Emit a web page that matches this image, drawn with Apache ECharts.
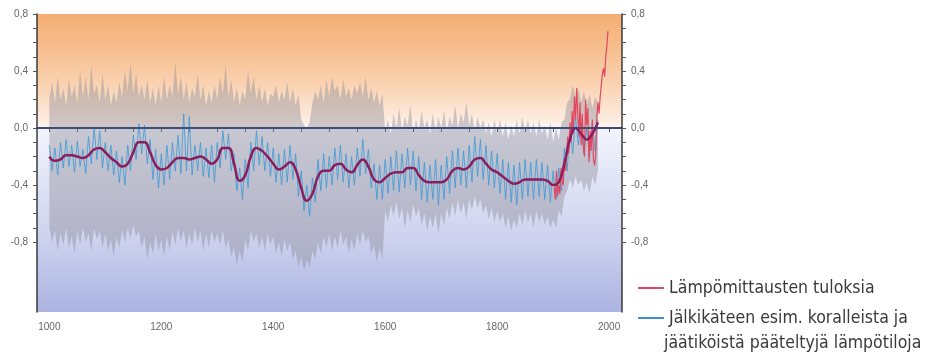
<!DOCTYPE html>
<html>
<head>
<meta charset="utf-8">
<script src="https://cdn.jsdelivr.net/npm/echarts@6/dist/echarts.min.js"></script>
<style>
  html, body { margin: 0; padding: 0; background: #fff; }
  #chart { width: 926px; height: 360px; }
</style>
</head>
<body>
<div id="chart"></div>
<script>
// vuosi-akseli ja tikit
const xTicks = [1000, 1050, 1100, 1150, 1200, 1250, 1300, 1350, 1400, 1450, 1500, 1550, 1600, 1650, 1700, 1750, 1800, 1850, 1900, 1950, 2000]
const xLabels = [1000, 1200, 1400, 1600, 1800, 2000]
const yTicks = [-0.8, -0.7, -0.6, -0.5, -0.4, -0.3, -0.2, -0.1, 0, 0.1, 0.2, 0.3, 0.4, 0.5, 0.6, 0.7, 0.8]
const yLabels = [-0.8, -0.4, 0, 0.4, 0.8]

// rekonstruktio (5 v välein, 1000-1980)
const proxyStart = 1000
const proxyStep = 5
const proxy = [
  -0.12, -0.30, -0.14, -0.33, -0.10, -0.28, -0.08, -0.27, -0.12, -0.31, -0.09, -0.27, -0.15, -0.32, -0.06, -0.25, 0.00, -0.22, -0.02, -0.28,
  -0.10, -0.30, -0.12, -0.33, -0.16, -0.38, -0.20, -0.40, -0.12, -0.30, -0.05, -0.22, 0.03, -0.18, 0.02, -0.25, -0.08, -0.36, -0.15, -0.42,
  -0.18, -0.40, -0.12, -0.36, -0.10, -0.30, -0.05, -0.32, 0.10, -0.30, 0.08, -0.33, -0.12, -0.30, -0.10, -0.34, -0.14, -0.35, -0.12, -0.38,
  -0.10, -0.28, -0.02, -0.22, -0.04, -0.30, -0.18, -0.44, -0.28, -0.50, -0.22, -0.42, -0.10, -0.30, -0.02, -0.26, -0.06, -0.30, -0.10, -0.34,
  -0.14, -0.38, -0.18, -0.40, -0.15, -0.38, -0.12, -0.36, -0.18, -0.48, -0.30, -0.58, -0.40, -0.62, -0.35, -0.52, -0.22, -0.44, -0.18, -0.42,
  -0.20, -0.40, -0.14, -0.36, -0.12, -0.38, -0.18, -0.42, -0.20, -0.40, -0.14, -0.34, -0.08, -0.32, -0.15, -0.42, -0.25, -0.50, -0.26, -0.50,
  -0.22, -0.46, -0.20, -0.44, -0.16, -0.45, -0.18, -0.42, -0.14, -0.40, -0.16, -0.44, -0.20, -0.50, -0.24, -0.52, -0.26, -0.50, -0.22, -0.54,
  -0.26, -0.50, -0.20, -0.46, -0.16, -0.42, -0.14, -0.40, -0.16, -0.42, -0.12, -0.38, -0.06, -0.34, -0.08, -0.36, -0.12, -0.40, -0.16, -0.42,
  -0.18, -0.46, -0.22, -0.50, -0.24, -0.52, -0.26, -0.54, -0.24, -0.50, -0.22, -0.48, -0.24, -0.50, -0.22, -0.48, -0.24, -0.50, -0.26, -0.52,
  -0.30, -0.50, -0.28, -0.44, -0.14, -0.30, 0.00, -0.18, 0.08, -0.12, 0.04, -0.18, 0.00, -0.20, 0.04, -0.16, 0.06
]
// epävarmuuden ylä- ja alaraja (5 v välein)
const upper = [
  0.20, 0.32, 0.18, 0.36, 0.20, 0.28, 0.16, 0.34, 0.22, 0.30, 0.18, 0.40, 0.22, 0.36, 0.20, 0.44, 0.24, 0.30, 0.18, 0.38,
  0.20, 0.30, 0.16, 0.26, 0.18, 0.32, 0.22, 0.40, 0.26, 0.46, 0.24, 0.38, 0.22, 0.30, 0.20, 0.34, 0.18, 0.28, 0.16, 0.30,
  0.18, 0.36, 0.20, 0.30, 0.22, 0.46, 0.24, 0.36, 0.20, 0.32, 0.18, 0.28, 0.22, 0.38, 0.20, 0.30, 0.16, 0.26, 0.18, 0.30,
  0.20, 0.36, 0.24, 0.44, 0.22, 0.34, 0.18, 0.28, 0.16, 0.26, 0.20, 0.40, 0.24, 0.36, 0.20, 0.30, 0.18, 0.28, 0.16, 0.24,
  0.22, 0.30, 0.18, 0.26, 0.20, 0.32, 0.18, 0.28, 0.16, 0.24, 0.06, 0.02, 0.00, 0.04, 0.18, 0.26, 0.20, 0.30, 0.18, 0.34,
  0.22, 0.36, 0.26, 0.30, 0.20, 0.34, 0.22, 0.28, 0.20, 0.30, 0.24, 0.32, 0.22, 0.36, 0.20, 0.28, 0.18, 0.26, 0.16, 0.24,
  -0.02, 0.06, -0.04, 0.10, 0.00, 0.14, -0.02, 0.08, 0.02, 0.16, -0.04, 0.06, -0.02, 0.12, 0.00, 0.06, -0.04, 0.10, -0.02, 0.08,
  0.00, 0.12, -0.02, 0.08, 0.02, 0.16, 0.00, 0.10, 0.04, 0.18, 0.02, 0.10, -0.02, 0.08, 0.00, 0.06, -0.04, 0.04, -0.06, 0.06,
  -0.04, 0.06, -0.06, 0.04, -0.08, 0.02, -0.06, 0.06, -0.04, 0.08, -0.02, 0.06, -0.04, 0.04, -0.06, 0.06, -0.04, 0.02, -0.08, 0.04,
  -0.10, 0.00, -0.08, 0.04, 0.06, 0.18, 0.20, 0.30, 0.22, 0.28, 0.18, 0.26, 0.16, 0.24, 0.14, 0.22, 0.18
]
const lower = [
  -0.70, -0.80, -0.72, -0.86, -0.74, -0.82, -0.70, -0.84, -0.76, -0.88, -0.72, -0.82, -0.70, -0.80, -0.74, -0.86, -0.70, -0.78, -0.72, -0.84,
  -0.74, -0.86, -0.78, -0.90, -0.76, -0.84, -0.72, -0.80, -0.70, -0.78, -0.68, -0.76, -0.72, -0.84, -0.76, -0.92, -0.80, -0.88, -0.74, -0.86,
  -0.78, -0.90, -0.76, -0.86, -0.72, -0.82, -0.70, -0.80, -0.72, -0.84, -0.74, -0.82, -0.70, -0.80, -0.72, -0.86, -0.74, -0.84, -0.72, -0.80,
  -0.74, -0.82, -0.72, -0.84, -0.78, -0.90, -0.84, -0.96, -0.86, -0.94, -0.78, -0.86, -0.72, -0.80, -0.74, -0.84, -0.76, -0.86, -0.74, -0.82,
  -0.76, -0.88, -0.80, -0.90, -0.78, -0.86, -0.80, -0.92, -0.86, -0.98, -0.90, -1.00, -0.92, -0.98, -0.86, -0.92, -0.80, -0.88, -0.76, -0.84,
  -0.74, -0.86, -0.76, -0.84, -0.72, -0.82, -0.76, -0.88, -0.78, -0.86, -0.74, -0.82, -0.72, -0.80, -0.76, -0.88, -0.82, -0.94, -0.84, -0.92,
  -0.58, -0.66, -0.54, -0.62, -0.52, -0.64, -0.56, -0.70, -0.58, -0.66, -0.54, -0.62, -0.56, -0.68, -0.60, -0.72, -0.62, -0.70, -0.60, -0.74,
  -0.60, -0.68, -0.56, -0.64, -0.52, -0.62, -0.50, -0.60, -0.52, -0.64, -0.50, -0.58, -0.48, -0.56, -0.50, -0.60, -0.54, -0.64, -0.56, -0.66,
  -0.58, -0.66, -0.60, -0.70, -0.62, -0.72, -0.64, -0.70, -0.60, -0.68, -0.58, -0.66, -0.60, -0.70, -0.58, -0.66, -0.60, -0.68, -0.62, -0.70,
  -0.64, -0.70, -0.58, -0.62, -0.48, -0.44, -0.36, -0.42, -0.34, -0.40, -0.36, -0.44, -0.38, -0.46, -0.34, -0.40, -0.30
]
// tasoitettu käyrä (10 v välein)
const smoothStart = 1000
const smoothStep = 10
const smoothed = [
  -0.20, -0.23, -0.22, -0.19, -0.19, -0.20, -0.21, -0.19, -0.15, -0.14,
  -0.17, -0.21, -0.24, -0.27, -0.25, -0.17, -0.10, -0.10, -0.17, -0.26,
  -0.29, -0.28, -0.24, -0.21, -0.21, -0.22, -0.21, -0.20, -0.22, -0.25,
  -0.22, -0.14, -0.14, -0.25, -0.37, -0.33, -0.20, -0.14, -0.16, -0.20,
  -0.25, -0.29, -0.27, -0.24, -0.29, -0.42, -0.51, -0.46, -0.34, -0.30,
  -0.30, -0.26, -0.25, -0.29, -0.31, -0.26, -0.22, -0.27, -0.36, -0.38,
  -0.35, -0.32, -0.31, -0.31, -0.28, -0.28, -0.33, -0.37, -0.38, -0.38,
  -0.38, -0.36, -0.30, -0.28, -0.29, -0.27, -0.22, -0.21, -0.25, -0.29,
  -0.31, -0.34, -0.37, -0.39, -0.38, -0.36, -0.36, -0.36, -0.36, -0.37,
  -0.40, -0.38, -0.25, -0.08, 0.00, -0.04, -0.08, -0.04, 0.04
]
// mittaukset (2 v välein, 1902-1998)
const measStart = 1902
const measStep = 2
const measured = [
  -0.42, -0.50, -0.30, -0.48, -0.40, -0.46, -0.28, -0.38, -0.40, -0.22,
  -0.30, -0.20, -0.06, -0.18, 0.04, -0.10, 0.12, -0.04, 0.22, 0.06,
  0.28, 0.10, -0.06, 0.18, -0.12, 0.10, -0.14, -0.20, 0.20, 0.02,
  0.14, -0.24, -0.02, -0.16, 0.06, -0.22, -0.26, -0.20, 0.08, 0.18,
  0.10, 0.22, 0.30, 0.38, 0.42, 0.36, 0.50, 0.58, 0.68
]

const redName = 'Lämpömittausten tuloksia'
const blueLines = ['Jälkikäteen esim. koralleista ja', 'jäätiköistä pääteltyjä lämpötiloja']
const blueName = blueLines.join(' ')

const pairs = (arr, start, step) => arr.map((v, i) => [start + i * step, v])
const fmt = v => v.toFixed(1).replace('.', ',').replace('-0,0', '0,0')
const legendFont = '"Liberation Sans Narrow", "DejaVu Sans Condensed", sans-serif'
const bandData = lower.map((v, i) => [proxyStart + i * proxyStep, v, upper[i]])

// epävarmuusalue yhtenä monikulmiona
function renderBand(params, api) {
  if (params.dataIndex !== 0) return
  const top = bandData.map(d => api.coord([d[0], d[2]]))
  const bottom = bandData.map(d => api.coord([d[0], d[1]])).reverse()
  return {
    type: 'polygon',
    shape: { points: top.concat(bottom) },
    style: { fill: 'rgba(140, 138, 150, 0.42)' },
    silent: true
  }
}

const yAxisBase = {
  type: 'value',
  min: -1.29,
  max: 0.8,
  splitLine: { show: false },
  axisLine: { show: true, lineStyle: { color: '#3a3a3a', width: 1.5 } },
  axisTick: { show: true, length: 4, customValues: yTicks, lineStyle: { color: '#555' } },
  axisLabel: {
    customValues: yLabels,
    formatter: fmt,
    color: '#666',
    fontSize: 10,
    fontFamily: 'Arial, "Liberation Sans", sans-serif',
    margin: 9
  }
}

const myChart = echarts.init(document.getElementById('chart'))
myChart.setOption({
  animation: false,
  backgroundColor: '#fff',
  grid: {
    left: 37,
    right: 304,
    top: 14,
    bottom: 48,
    show: true,
    borderWidth: 0,
    backgroundColor: {
      type: 'linear', x: 0, y: 0, x2: 0, y2: 1,
      colorStops: [
        { offset: 0, color: '#f4ad74' },
        { offset: 0.12, color: '#f7bf8f' },
        { offset: 0.25, color: '#fad5b6' },
        { offset: 0.35, color: '#fdebde' },
        { offset: 0.382, color: '#fef5ef' },
        { offset: 0.384, color: '#f3f4fc' },
        { offset: 0.55, color: '#e2e5f6' },
        { offset: 0.77, color: '#cbd0ee' },
        { offset: 1, color: '#abb3e1' }
      ]
    }
  },
  legend: {
    data: [redName, blueName],
    orient: 'vertical',
    left: 633,
    top: 272,
    itemGap: 8,
    itemWidth: 26,
    itemHeight: 2,
    icon: 'rect',
    formatter: name => (name === blueName ? blueLines[0] : name),
    textStyle: { fontSize: 17.5, lineHeight: 22, color: '#3a3a3a', fontFamily: legendFont }
  },
  graphic: [{
    type: 'text',
    left: 664,
    top: 334,
    style: { text: blueLines[1], fontSize: 17.5, fill: '#3a3a3a', fontFamily: legendFont }
  }],
  xAxis: {
    type: 'value',
    min: 978,
    max: 2023,
    splitLine: { show: false },
    axisLine: { show: true, lineStyle: { color: '#3a3a3a', width: 1.5 } },
    axisTick: { show: true, length: 4, customValues: xTicks, lineStyle: { color: '#555' } },
    axisLabel: {
      customValues: xLabels,
      formatter: v => String(v),
      color: '#666',
      fontSize: 10,
      fontFamily: 'Arial, "Liberation Sans", sans-serif',
      margin: 10
    }
  },
  yAxis: [
    Object.assign({}, yAxisBase, { position: 'left' }),
    Object.assign({}, yAxisBase, { position: 'right' })
  ],
  series: [
    {
      name: 'vaihteluväli',
      type: 'custom',
      renderItem: renderBand,
      clip: true,
      silent: true,
      encode: { x: 0, y: [1, 2] },
      data: bandData
    },
    {
      name: blueName,
      type: 'line',
      symbol: 'none',
      color: '#3f8fd0',
      lineStyle: { color: '#3d9ad8', width: 0.9, opacity: 0.9 },
      data: pairs(proxy, proxyStart, proxyStep),
      markLine: {
        silent: true,
        symbol: 'none',
        label: { show: false },
        lineStyle: { color: '#2d3f7d', width: 1.5, type: 'solid' },
        data: [{ yAxis: 0 }]
      }
    },
    {
      name: redName,
      type: 'line',
      symbol: 'none',
      color: '#d94a62',
      lineStyle: { color: '#e3475f', width: 1.2 },
      data: pairs(measured, measStart, measStep)
    },
    {
      name: 'tasoitettu',
      type: 'line',
      symbol: 'none',
      smooth: true,
      lineStyle: { color: '#8b1d5b', width: 2.5 },
      data: pairs(smoothed, smoothStart, smoothStep)
    }
  ]
})
</script>
</body>
</html>
